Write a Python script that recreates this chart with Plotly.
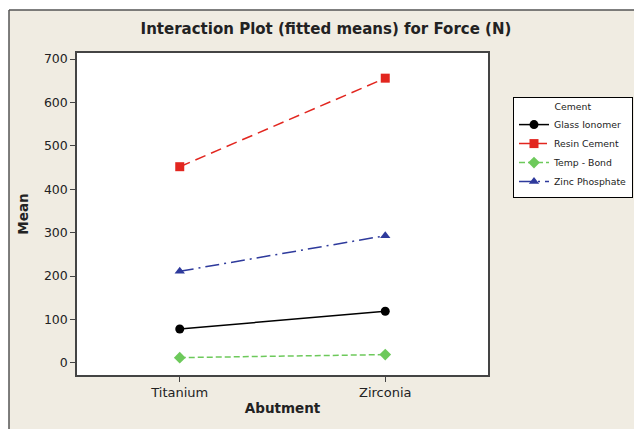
import plotly.graph_objects as go

abutment = ["Titanium", "Zirconia"]
series_names = ["Glass Ionomer", "Resin Cement", "Temp - Bond", "Zinc Phosphate"]
glass_ionomer = [78, 119]
resin_cement = [452, 656]
temp_bond = [12, 19]
zinc_phosphate = [211, 293]
y_ticks = [0, 100, 200, 300, 400, 500, 600, 700]

values = [glass_ionomer, resin_cement, temp_bond, zinc_phosphate]
colors = ["#000000", "#e2261f", "#6dc95b", "#2e3a9c"]
dashes = ["solid", "11px,6px", "6px,3px", "14px,5px,2px,5px"]
symbols = ["circle", "square", "diamond", "triangle-up"]

FONT = "DejaVu Sans"
OFF = 8  # page body margin
W, H = 642 - OFF, 429 - OFF
L, R, T, B = 77 - OFF, 488 - OFF, 53 - OFF, 375 - OFF
pw, ph = R - L, B - T

def px2x(px):
    return (px - OFF - L) / pw

def px2y(py):
    return (B - (py - OFF)) / ph

fig = go.Figure()
for name, vals, c, d, s in zip(series_names, values, colors, dashes, symbols):
    fig.add_trace(go.Scatter(
        x=[0, 1], y=vals, name=name, mode="lines+markers",
        line=dict(color=c, width=1.5, dash=d),
        marker=dict(color=c, symbol=s, size=9),
    ))

shapes = [
    dict(type="rect", xref="paper", yref="paper", x0=px2x(0), x1=px2x(660), y0=px2y(10), y1=px2y(0),
         fillcolor="white", line=dict(width=0), layer="below"),
    dict(type="rect", xref="paper", yref="paper", x0=px2x(0), x1=px2x(9), y0=px2y(440), y1=px2y(10),
         fillcolor="white", line=dict(width=0), layer="below"),
    dict(type="line", xref="paper", yref="paper", x0=px2x(9), x1=px2x(660), y0=px2y(10), y1=px2y(10),
         line=dict(color="#555555", width=1.5)),
    dict(type="line", xref="paper", yref="paper", x0=px2x(9), x1=px2x(9), y0=px2y(10), y1=px2y(440),
         line=dict(color="#555555", width=1.5)),
]

fig.update_layout(
    width=W, height=H,
    margin=dict(l=L, r=W - R, t=T, b=H - B, pad=0, autoexpand=False),
    paper_bgcolor="#f0ece2",
    plot_bgcolor="white",
    font=dict(family=FONT, color="#222222", size=12),
    title=dict(text="<b>Interaction Plot (fitted means) for Force (N)</b>",
               x=(326 - OFF) / W, xref="container", xanchor="center",
               y=1 - (29 - OFF) / H, yref="container", yanchor="middle",
               font=dict(family=FONT, size=15, color="#222222")),
    xaxis=dict(
        range=[-0.5, 1.5], tickmode="array", tickvals=[0, 1], ticktext=abutment,
        showgrid=False, zeroline=False, showline=True, mirror=True,
        linecolor="#444444", linewidth=1.5, ticks="outside", ticklen=5, tickcolor="#444444",
        tickfont=dict(size=13),
        title=dict(text="<b>Abutment</b>", font=dict(size=13.5), standoff=4),
    ),
    yaxis=dict(
        range=[-28, 714], tickmode="array", tickvals=y_ticks,
        showgrid=False, zeroline=False, showline=True, mirror=True,
        linecolor="#444444", linewidth=1.5, ticks="outside", ticklen=5, tickcolor="#444444",
        tickfont=dict(size=12.5),
        title=dict(text="<b>Mean</b>", font=dict(size=13.5), standoff=12),
    ),
    legend=dict(
        x=px2x(513), y=px2y(97), xanchor="left", yanchor="top",
        bgcolor="white", bordercolor="#000000", borderwidth=1,
        font=dict(family=FONT, size=9.3, color="#222222"),
        title=dict(text="Cement", font=dict(size=9.3), side="top center"),
        tracegroupgap=0, itemwidth=30,
    ),
    shapes=shapes,
)

fig.write_html("out.html")
